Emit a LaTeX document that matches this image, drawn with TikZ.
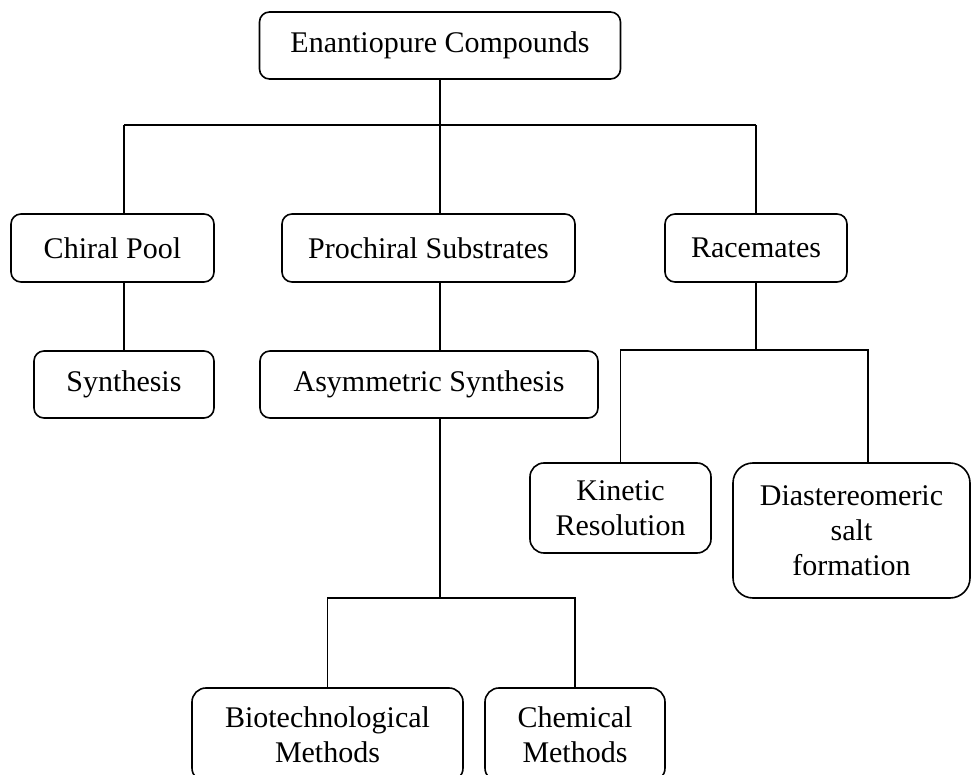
\documentclass[tikz,border=0pt]{standalone}
\usepackage{fontspec}
\setmainfont{Liberation Serif}
\usepackage{tikz}
\usetikzlibrary{positioning}

\begin{document}
\begin{tikzpicture}[x=0.5pt,y=-0.5pt,
    box/.style={rectangle,draw=black,line width=0.8pt,rounded corners=5pt,
        align=center,inner sep=0pt,font=\fontsize{15}{17.5}\selectfont},
    link/.style={draw=black,line width=0.75pt}]

\useasboundingbox (0,0) rectangle (971,775);
\clip (0,0) rectangle (971,775);

% top level
\node[box, minimum width=180.5pt, minimum height=33.5pt] (enant) at (440,45.5) {Enantiopure Compounds};

% second level
\node[box, minimum width=101.5pt, minimum height=34pt] (chiral) at (112.5,248) {Chiral Pool};
\node[box, minimum width=146.5pt, minimum height=34pt] (prochiral) at (428.5,248) {Prochiral Substrates};
\node[box, minimum width=91pt, minimum height=34pt] (racem) at (756,248) {Racemates};

% third level
\node[box, minimum width=90pt, minimum height=33.5pt] (synth) at (124,384.5) {Synthesis};
\node[box, minimum width=169pt, minimum height=33.5pt] (asym) at (429,384.5) {Asymmetric Synthesis};
\node[box, rounded corners=7pt, minimum width=90.5pt, minimum height=45pt] (kinetic) at (620.5,508) {Kinetic\\Resolution};
\node[box, rounded corners=10pt, minimum width=118.5pt, minimum height=67.5pt] (diast) at (851.5,530.5) {Diastereomeric\\salt\\formation};

% bottom
\node[box, rounded corners=7pt, minimum width=135.5pt, minimum height=47pt] (biotech) at (327.5,735) {Biotechnological\\Methods};
\node[box, rounded corners=7pt, minimum width=90pt, minimum height=47pt] (chem) at (575,735) {Chemical\\Methods};

\coordinate (bus) at (440,125);
\coordinate (split) at (868,350);
\coordinate (low) at (440,598);

% connectors
\draw[link] (enant.south) -- (enant.south |- bus);
\draw[link] (synth.north |- bus) -- (racem.north |- bus);
\draw[link] (synth.north |- bus) -- (synth.north |- chiral.north);
\draw[link] (bus) -- (bus |- prochiral.north);
\draw[link] (racem.north |- bus) -- (racem.north);
\draw[link] (synth.north |- chiral.south) -- (synth.north);
\draw[link] (bus |- prochiral.south) -- (bus |- asym.north);
\draw[link] (racem.south) -- (racem.south |- split);
\draw[link] (kinetic.north) |- (split) -- (split |- diast.north);
\draw[link] (bus |- asym.south) -- (low);
\draw[link] (biotech.north) |- (low) -| (chem.north);

\end{tikzpicture}
\end{document}
